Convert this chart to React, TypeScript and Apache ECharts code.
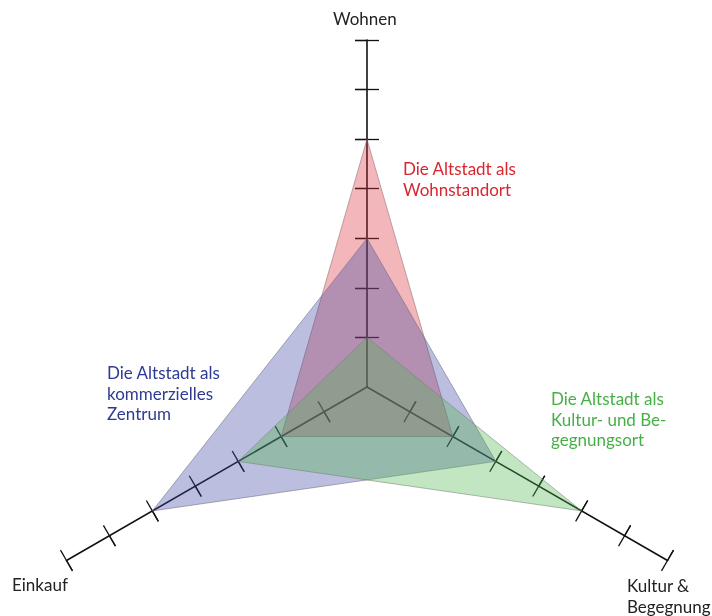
import { useEffect, useRef } from 'react';
import * as echarts from 'echarts';

const indicatorNames = ['Wohnen', 'Einkauf', 'Kultur & Begegnung'];
const axisMin = 0;
const axisMax = 7;
const tickValues = [1, 2, 3, 4, 5, 6, 7];

const seriesNames = [
  'Die Altstadt als Wohnstandort',
  'Die Altstadt als kommerzielles Zentrum',
  'Die Altstadt als Kultur- und Begegnungsort',
];
// order: Wohnen, Einkauf, Kultur & Begegnung
const wohnstandort = [5, 2, 2];
const kommerziell = [3, 5, 3];
const kulturort = [1, 3, 5];

const annotationLines = [
  ['Die Altstadt als', 'Wohnstandort'],
  ['Die Altstadt als', 'kommerzielles', 'Zentrum'],
  ['Die Altstadt als', 'Kultur- und Be-', 'gegnungsort'],
];
const axisLabelLines = [['Wohnen'], ['Einkauf'], ['Kultur &', 'Begegnung']];

const fillColors = ['rgba(220,50,60,0.35)', 'rgba(60,70,160,0.35)', 'rgba(80,180,80,0.35)'];
const textColors = ['#d8262f', '#2d3b94', '#46b046'];

const FONT = 'Lato, sans-serif';
const FONT_SIZE = 17;
const LINE_H = 20.5;

export default function App() {
  const ref = useRef<HTMLDivElement>(null);
  useEffect(() => {
    if (!ref.current) return;
    const chart = echarts.init(ref.current, null, { renderer: 'svg' });
    const radarBase = {
      center: [367, 387],
      radius: 347,
      startAngle: 90,
      splitNumber: 7,
      shape: 'polygon',
      indicator: indicatorNames.map((n) => ({ name: n, min: axisMin, max: axisMax })),
      axisName: { show: false },
      splitLine: { show: false },
      splitArea: { show: false },
      axisLabel: { show: false },
    };
    const tickStyle = { color: '#111', width: 1.3 };
    const hiddenLine = { show: true, lineStyle: { color: '#111', width: 1, opacity: 0 } };
    const values = [wohnstandort, kommerziell, kulturort];

    const textBlock = (lines: string[], left: number, top: number, fill: string) =>
      lines.map((t, k) => ({
        type: 'text',
        left,
        top: top + k * LINE_H,
        style: { text: t, font: `${FONT_SIZE}px ${FONT}`, fill },
      }));

    const annLeft = [403, 107, 551];
    const annTop = [160, 364, 390];
    const axLeft = [333, 12, 627];
    const axTop = [10, 576, 577];

    chart.setOption({
      animation: false,
      radar: [
        {
          ...radarBase,
          axisLine: { show: true, lineStyle: { color: '#111', width: 1.6 } },
          axisTick: { show: true, inside: false, length: 12, customValues: tickValues, lineStyle: tickStyle },
        },
        {
          ...radarBase,
          axisLine: hiddenLine,
          axisTick: { show: true, inside: true, length: 12, customValues: tickValues, lineStyle: tickStyle },
        },
        {
          ...radarBase,
          axisLine: hiddenLine,
          axisTick: { show: true, inside: false, length: -12, customValues: tickValues, lineStyle: tickStyle },
        },
      ],
      series: values.map((v, i) => ({
        type: 'radar',
        radarIndex: 0,
        name: seriesNames[i],
        symbol: 'none',
        z: 3,
        lineStyle: { color: 'rgba(120,120,120,0.55)', width: 1 },
        areaStyle: { color: fillColors[i], opacity: 1 },
        data: [{ value: v, name: seriesNames[i] }],
      })),
      graphic: [
        ...axisLabelLines.flatMap((lines, i) => textBlock(lines, axLeft[i], axTop[i], '#222')),
        ...annotationLines.flatMap((lines, i) => textBlock(lines, annLeft[i], annTop[i], textColors[i])),
      ],
    });
    return () => chart.dispose();
  }, []);
  return <div ref={ref} style={{ position: 'fixed', left: 0, top: 0, width: 712, height: 616 }} />;
}
